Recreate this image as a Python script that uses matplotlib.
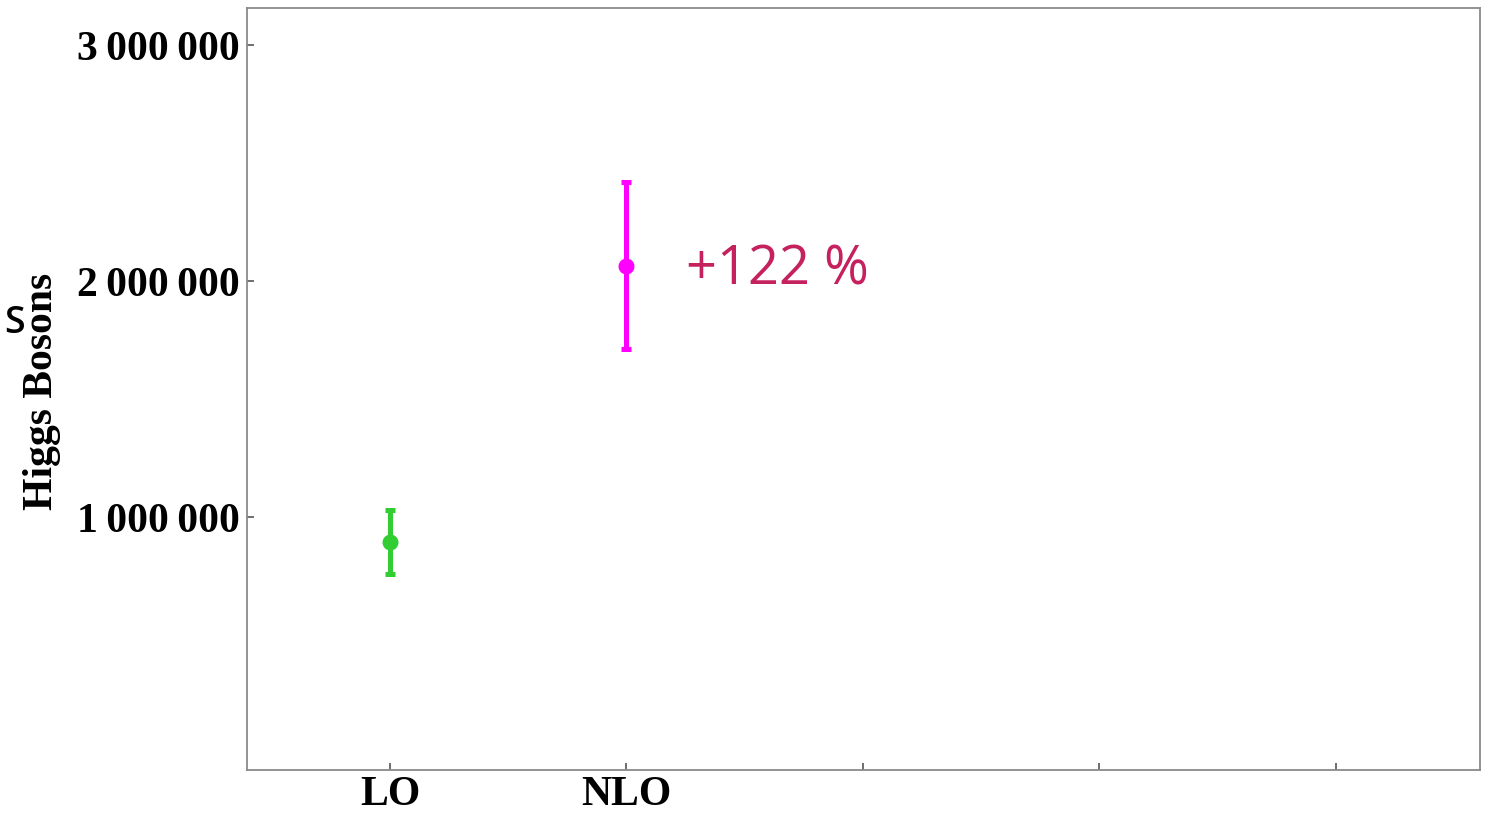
import matplotlib
matplotlib.use("Agg")
import matplotlib.pyplot as plt
from matplotlib.ticker import FuncFormatter

# Higgs boson yields at each perturbative order
orders = ["LO", "NLO"]
order_pos = [1, 2]
yields = [894000, 2064000]
err_low = [136000, 352000]
err_high = [136000, 355000]
colors = ["#32CD32", "#FF00FF"]
increase_label = "+122 %"

x_ticks = [1, 2, 3, 4, 5]
x_ticklabels = ["LO", "NLO", "", "", ""]
y_ticks = [1000000, 2000000, 3000000]

fig = plt.figure(figsize=(14.93, 8.15), dpi=100)
ax = fig.add_axes([0.1654, 0.0552, 0.8259, 0.935])

for x, y, lo, hi, c in zip(order_pos, yields, err_low, err_high, colors):
    ax.errorbar([x], [y], yerr=[[lo], [hi]], fmt="o", color=c, ecolor=c,
                markersize=10.5, elinewidth=3.6, capsize=3.6, capthick=3.6)

ax.text(2.25, 2045000, increase_label, color="#C4215E", fontsize=39,
        family="Open Sans", va="center", ha="left")

ax.set_xlim(0.395, 5.61)
ax.set_ylim(-72000, 3157000)
ax.set_xticks(x_ticks)
ax.set_xticklabels(x_ticklabels)
ax.set_yticks(y_ticks)


def thin_group(v, _):
    s = f"{int(round(v)):,}"
    return s.replace(",", "\u2009")


ax.yaxis.set_major_formatter(FuncFormatter(thin_group))

for lab in ax.get_xticklabels() + ax.get_yticklabels():
    lab.set_family("Liberation Serif")
    lab.set_fontweight("bold")
    lab.set_fontsize(30)

ax.tick_params(axis="both", direction="in", length=5, width=1.2,
               color="#555555", pad=4)
ax.tick_params(axis="y", pad=5)

for sp in ax.spines.values():
    sp.set_color("#8a8a8a")
    sp.set_linewidth(1.3)

fig.text(0.028, 0.52, "Higgs Bosons", rotation=90, family="Liberation Serif",
         fontweight="bold", fontsize=30, ha="center", va="center")
fig.text(0.0094, 0.6037, "S", family="Open Sans", fontsize=27,
         fontweight="semibold", ha="center", va="center")

fig.savefig("out.png", dpi=100)
